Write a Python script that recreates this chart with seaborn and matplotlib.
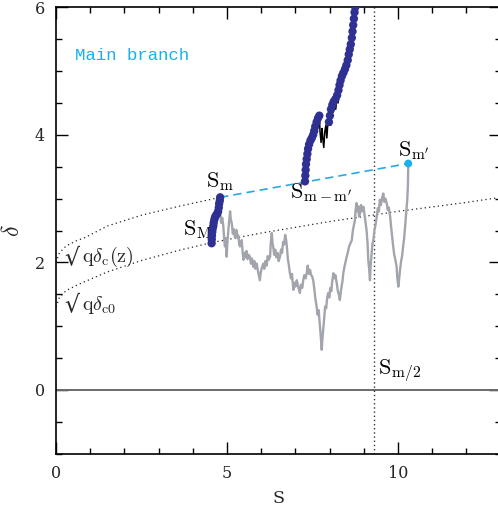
import numpy as np
import pandas as pd
import matplotlib
matplotlib.use("Agg")
import matplotlib.pyplot as plt
import seaborn as sns

# ---------------- data ----------------
walk_S = [4.80, 4.83, 4.86, 4.89, 4.92, 4.94, 4.96, 4.99, 5.01, 5.04, 5.06, 5.09, 5.11, 5.14, 5.17, 5.20,
          5.23, 5.26, 5.28, 5.31, 5.33, 5.36, 5.38, 5.41, 5.43, 5.46, 5.48, 5.51, 5.54, 5.57, 5.60, 5.63,
          5.67, 5.70, 5.73, 5.77, 5.80, 5.83, 5.87, 5.90, 5.93, 5.96, 5.99, 6.02, 6.06, 6.09, 6.12, 6.16,
          6.19, 6.22, 6.26, 6.28, 6.31, 6.33, 6.35, 6.38, 6.41, 6.44, 6.48, 6.51, 6.55, 6.58, 6.61, 6.64,
          6.67, 6.70, 6.73, 6.75, 6.78, 6.81, 6.84, 6.87, 6.90, 6.94, 6.97, 7.00, 7.04, 7.07, 7.10, 7.13,
          7.16, 7.20, 7.23, 7.26, 7.30, 7.33, 7.36, 7.40, 7.43, 7.46, 7.49, 7.52, 7.55, 7.58, 7.62, 7.65,
          7.68, 7.72, 7.74, 7.77, 7.79, 7.82, 7.84, 7.87, 7.90, 7.93, 7.96, 7.99, 8.02, 8.05, 8.08, 8.11,
          8.14, 8.17, 8.21, 8.24, 8.27, 8.30, 8.33, 8.35, 8.38, 8.40, 8.43, 8.47, 8.50, 8.53, 8.57, 8.61,
          8.65, 8.68, 8.71, 8.74, 8.76, 8.79, 8.81, 8.84, 8.86, 8.89, 8.92, 8.95, 8.99, 9.02, 9.05, 9.08,
          9.11, 9.13, 9.16, 9.18, 9.20, 9.23, 9.25, 9.28, 9.31, 9.34, 9.38, 9.41, 9.44, 9.47, 9.50, 9.54,
          9.57, 9.60, 9.63, 9.67, 9.70, 9.73, 9.77, 9.80, 9.83, 9.86, 9.89, 9.92, 9.96, 9.98, 10.01, 10.04,
          10.06, 10.09, 10.12, 10.15, 10.18, 10.20, 10.23, 10.25, 10.27, 10.29, 10.30]
walk_d = [2.77, 2.62, 2.70, 2.58, 2.35, 2.25, 2.38, 2.09, 2.30, 2.51, 2.62, 2.80, 2.68, 2.61, 2.45, 2.52,
          2.40, 2.47, 2.51, 2.38, 2.42, 2.28, 2.25, 2.33, 2.35, 2.15, 2.04, 2.15, 2.08, 2.18, 2.05, 2.12,
          2.09, 1.98, 2.06, 1.93, 2.02, 1.90, 1.98, 1.88, 1.80, 1.72, 1.85, 1.92, 1.98, 1.90, 2.02, 1.95,
          2.10, 2.04, 2.09, 2.30, 2.46, 2.30, 2.25, 2.12, 2.20, 2.08, 2.15, 2.02, 2.09, 2.20, 2.15, 2.32,
          2.28, 2.43, 2.35, 2.25, 2.05, 1.95, 1.83, 1.75, 1.82, 1.57, 1.68, 1.62, 1.72, 1.64, 1.58, 1.52,
          1.65, 1.60, 1.72, 1.80, 1.75, 1.83, 1.95, 1.82, 1.88, 1.80, 1.78, 1.72, 1.60, 1.45, 1.31, 1.18,
          1.25, 0.99, 0.85, 0.63, 0.80, 0.99, 1.10, 1.31, 1.28, 1.45, 1.52, 1.45, 1.60, 1.55, 1.72, 1.83,
          1.75, 1.80, 1.67, 1.55, 1.50, 1.41, 1.55, 1.62, 1.72, 1.83, 1.92, 2.02, 2.09, 2.15, 2.25, 2.30,
          2.35, 2.50, 2.58, 2.66, 2.82, 2.93, 2.80, 2.88, 2.72, 2.77, 2.90, 2.80, 2.87, 2.75, 2.62, 2.51,
          2.30, 2.04, 1.88, 1.72, 1.95, 2.14, 2.28, 2.35, 2.50, 2.58, 2.72, 2.85, 2.80, 2.98, 2.90, 3.02,
          3.08, 2.95, 3.00, 2.93, 2.82, 2.86, 2.72, 2.55, 2.40, 2.25, 2.12, 2.05, 1.93, 1.75, 1.62, 1.78,
          1.88, 2.02, 2.10, 2.25, 2.38, 2.51, 2.70, 2.85, 2.98, 3.20, 3.55]

branch_S = [7.28, 7.30, 7.33, 7.37, 7.42, 7.48, 7.52, 7.55, 7.60, 7.66, 7.70, 7.72, 7.75, 7.78, 7.80, 7.83,
            7.86, 7.89, 7.92, 7.95, 7.98, 8.01, 8.03, 8.06, 8.10, 8.14, 8.18, 8.22, 8.25, 8.29, 8.33, 8.36,
            8.40, 8.45, 8.49, 8.53, 8.56, 8.60, 8.63, 8.66, 8.69, 8.73, 8.76]
branch_d = [3.27, 3.45, 3.62, 3.78, 3.88, 3.95, 3.90, 4.06, 4.18, 4.26, 4.30, 4.05, 3.88, 4.10, 3.95, 3.80,
            4.05, 4.15, 3.95, 4.20, 4.20, 4.30, 4.15, 4.42, 4.35, 4.55, 4.40, 4.62, 4.50, 4.78, 4.70, 4.92,
            4.85, 5.03, 4.95, 5.17, 5.26, 5.30, 5.45, 5.40, 5.72, 5.92, 6.05]

main1_S = [4.55, 4.555, 4.56, 4.57, 4.58, 4.60, 4.61, 4.63, 4.65, 4.68, 4.71, 4.74, 4.76, 4.77, 4.79, 4.80]
main1_d = [2.30, 2.36, 2.42, 2.48, 2.53, 2.57, 2.62, 2.67, 2.71, 2.74, 2.76, 2.80, 2.86, 2.92, 2.97, 3.02]

main2_S = [7.28, 7.29, 7.30, 7.31, 7.33, 7.35, 7.37, 7.40, 7.44, 7.48, 7.52, 7.55, 7.58, 7.62, 7.66, 7.70,
           7.98, 8.01, 8.04, 8.08, 8.12, 8.17, 8.22, 8.26, 8.29, 8.32, 8.36, 8.40, 8.45, 8.49, 8.53, 8.56,
           8.59, 8.62, 8.65, 8.67, 8.69, 8.71, 8.73, 8.75]
main2_d = [3.27, 3.36, 3.45, 3.54, 3.62, 3.70, 3.78, 3.85, 3.91, 3.95, 4.00, 4.06, 4.13, 4.20, 4.26, 4.30,
           4.20, 4.30, 4.40, 4.47, 4.52, 4.56, 4.62, 4.70, 4.78, 4.85, 4.92, 4.97, 5.03, 5.09, 5.17, 5.26,
           5.34, 5.42, 5.52, 5.62, 5.72, 5.82, 5.92, 6.00]

barrier_z_S = [0.0, 0.1, 0.3, 0.6, 0.85, 1.5, 2.5, 3.6, 4.8]
barrier_z_d = [2.00, 2.15, 2.26, 2.34, 2.39, 2.57, 2.74, 2.88, 3.02]

barrier_0_S = [0.0, 0.1, 0.3, 0.6, 0.85, 1.5, 2.5, 3.6, 4.55, 6.0, 8.0, 10.0, 12.0, 13.0]
barrier_0_d = [1.30, 1.45, 1.56, 1.64, 1.70, 1.85, 2.03, 2.19, 2.31, 2.46, 2.64, 2.80, 2.94, 3.02]

jump_S = [4.80, 10.30]
jump_d = [3.02, 3.55]

S_half = 9.3

# ---------------- style ----------------
sns.set_theme(style="ticks")
plt.rcParams["font.family"] = ["DejaVu Serif"]
plt.rcParams["mathtext.fontset"] = "cm"

fig = plt.figure(figsize=(4.98, 5.07), dpi=100)
ax = fig.add_axes([56 / 498, (507 - 453.8) / 507, 444.6 / 498, 446.6 / 507])

grey = "#a2a6ac"
navy = "#2e3192"
cyan = "#1ab0ec"

ax.axhline(0, color="#6a6a6a", lw=1.4, zorder=1)
ax.axvline(S_half, color="#333333", lw=1.0, ls=(0, (1, 2)), zorder=1)

sns.lineplot(x=barrier_z_S, y=barrier_z_d, sort=False, estimator=None, ax=ax,
             color="#222222", lw=0.9, linestyle=(0, (1, 2.5)))
sns.lineplot(x=barrier_0_S, y=barrier_0_d, sort=False, estimator=None, ax=ax,
             color="#222222", lw=0.9, linestyle=(0, (1, 2.5)))

sns.lineplot(x=walk_S, y=walk_d, sort=False, estimator=None, ax=ax,
             color=grey, lw=1.7, zorder=2)
sns.lineplot(x=branch_S, y=branch_d, sort=False, estimator=None, ax=ax,
             color="black", lw=1.1, zorder=2)

sns.lineplot(x=jump_S, y=jump_d, sort=False, estimator=None, ax=ax,
             color="#29a9e1", lw=1.2, linestyle=(0, (5, 3)), zorder=3)

sns.scatterplot(x=main1_S, y=main1_d, ax=ax, color=navy, s=36, edgecolor="none", zorder=4)
sns.scatterplot(x=main2_S, y=main2_d, ax=ax, color=navy, s=36, edgecolor="none", zorder=4)
sns.scatterplot(x=[jump_S[1]], y=[jump_d[1]], ax=ax, color=cyan, s=32, edgecolor="none", zorder=5)

ax.set_xlim(0, 13)
ax.set_ylim(-1, 6)
ax.set_xticks([0, 5, 10])
ax.set_yticks([0, 2, 4, 6])
ax.set_xticks(np.arange(0, 14, 1), minor=True)
ax.set_yticks(np.arange(-1, 6.01, 0.5), minor=True)
ax.tick_params(which="both", direction="in", top=True, right=True, labelsize=11.5, color="black")
ax.tick_params(which="major", length=8.5, width=1.0, pad=8)
ax.tick_params(which="minor", length=4.3, width=1.0)
for sp in ax.spines.values():
    sp.set_linewidth(1.2)
    sp.set_color("black")

ax.set_xlabel("S", fontsize=12.5, labelpad=6)
ax.set_ylabel(r"$\delta$", fontsize=17, labelpad=8)

ax.text(0.55, 5.25, "Main branch", color=cyan, fontsize=12.5,
        family=["Liberation Mono", "DejaVu Sans Mono"], va="center", ha="left")

lab = dict(fontsize=16, color="black", ha="left", va="baseline")
ax.text(4.40, 3.18, r"$\mathrm{S}_\mathrm{m}$", **lab)
ax.text(3.72, 2.43, r"$\mathrm{S}_\mathrm{M}$", **lab)
ax.text(6.84, 3.01, r"$\mathrm{S}_{\mathrm{m}-\mathrm{m}'}$", **lab)
ax.text(10.0, 3.66, r"$\mathrm{S}_{\mathrm{m}'}$", **lab)
ax.text(9.42, 0.24, r"$\mathrm{S}_{\mathrm{m}/2}$", **lab)
ax.text(0.25, 1.98, "√", fontsize=17, ha="left", va="baseline", family=["DejaVu Sans"])
ax.text(0.75, 2.0, r"$\mathrm{q}\delta_\mathrm{c}(\mathrm{z})$", fontsize=14.5, ha="left", va="baseline")
ax.text(0.25, 1.23, "√", fontsize=17, ha="left", va="baseline", family=["DejaVu Sans"])
ax.text(0.75, 1.25, r"$\mathrm{q}\delta_\mathrm{c0}$", fontsize=14.5, ha="left", va="baseline")

fig.savefig("out.png", dpi=100)
